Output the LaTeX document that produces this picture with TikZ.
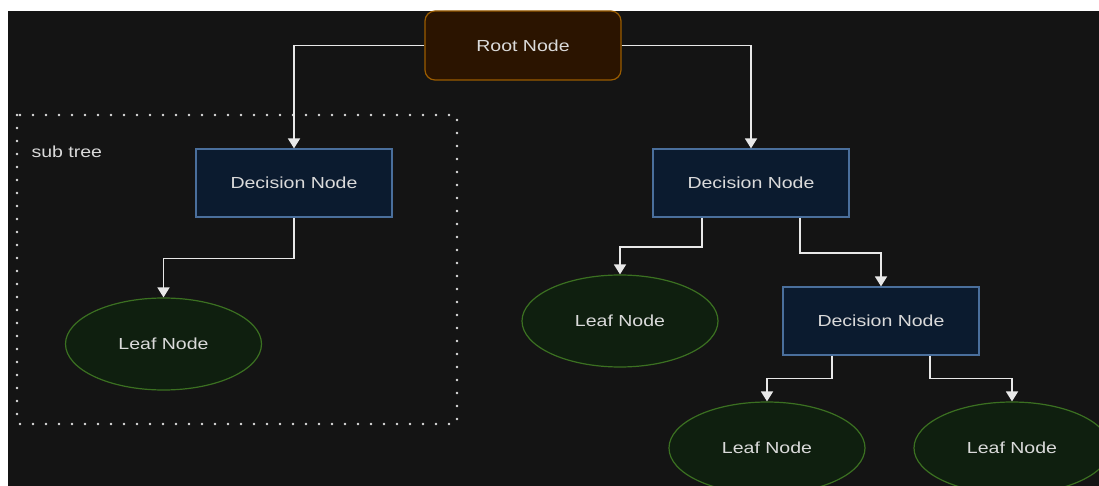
\documentclass[tikz,border=0pt]{standalone}
\usepackage{fontspec}
\setmainfont{Liberation Sans}[FakeStretch=1.22]
\usetikzlibrary{arrows.meta,calc,shapes.geometric}

\definecolor{canvas}{HTML}{141414}
\definecolor{rootfill}{HTML}{2B1400}
\definecolor{rootline}{HTML}{9A5C00}
\definecolor{decfill}{HTML}{0B1B2F}
\definecolor{decline}{HTML}{4A6F9C}
\definecolor{leaffill}{HTML}{0F1F0F}
\definecolor{leafline}{HTML}{3B7021}
\definecolor{labeltext}{HTML}{DADADA}
\definecolor{wire}{HTML}{E8E8E8}

\tikzset{
  lbl/.style={text=labeltext, font=\fontsize{16}{19}\selectfont},
  rootbox/.style={lbl, draw=rootline, fill=rootfill, line width=1.2pt,
    rounded corners=10pt, minimum width=196pt, minimum height=69pt, inner sep=0pt},
  decbox/.style={lbl, draw=decline, fill=decfill, line width=1.2pt,
    minimum width=196pt, minimum height=68pt, inner sep=0pt},
  leafbox/.style={lbl, ellipse, draw=leafline, fill=leaffill, line width=1.2pt,
    minimum width=196pt, minimum height=92pt, inner sep=0pt},
  link/.style={draw=wire, line width=1.7pt,
    -{Triangle[width=12pt,length=10pt,fill=wire]}},
  groupframe/.style={draw=white!88!black, line width=2.8pt, line cap=round,
    dash pattern=on 0pt off 13pt},
}

\begin{document}
\begin{tikzpicture}[x=1pt,y=-1pt]
  \useasboundingbox (0,0) rectangle (1099,486);
  \fill[white] (0,0) rectangle (1099,486);
  \begin{scope}
    \clip (8,11) rectangle (1099,486);
    \fill[canvas] (8,11) rectangle (1099,486);

    % dotted group frame and its caption
    \draw[groupframe] (17,115) rectangle (457,424);
    \node[lbl, anchor=west] (subcap) at (28,152) {sub tree};

    % nodes
    \node[rootbox] (root) at (523,45.5) {Root Node};
    \node[decbox] (dl) at (294,183) {Decision Node};
    \node[decbox] (dr) at (751,183) {Decision Node};
    \node[decbox] (dm) at (881,321) {Decision Node};
    \node[leafbox] (ll) at (163.5,344) {Leaf Node};
    \node[leafbox] (lm) at (620,321) {Leaf Node};
    \node[leafbox] (lb1) at (767,448) {Leaf Node};
    \node[leafbox] (lb2) at (1012,448) {Leaf Node};

    % outlet points on the lower edges of the decision boxes
    \coordinate (drA) at ($(dr.south west)!0.25!(dr.south east)$);
    \coordinate (drB) at ($(dr.south west)!0.75!(dr.south east)$);
    \coordinate (dmA) at ($(dm.south west)!0.25!(dm.south east)$);
    \coordinate (dmB) at ($(dm.south west)!0.75!(dm.south east)$);

    % connectors
    \draw[link] (root.west) -| (dl.north);
    \draw[link] (root.east) -| (dr.north);
    \draw[link] (dl.south) -- ++(0,41) -| (ll.north);
    \draw[link] (drA) -- ++(0,29.5) -| (lm.north);
    \draw[link] (drB) -- ++(0,35.5) -| (dm.north);
    \draw[link] (dmA) -- ++(0,23) -| (lb1.north);
    \draw[link] (dmB) -- ++(0,23) -| (lb2.north);
  \end{scope}
\end{tikzpicture}
\end{document}
